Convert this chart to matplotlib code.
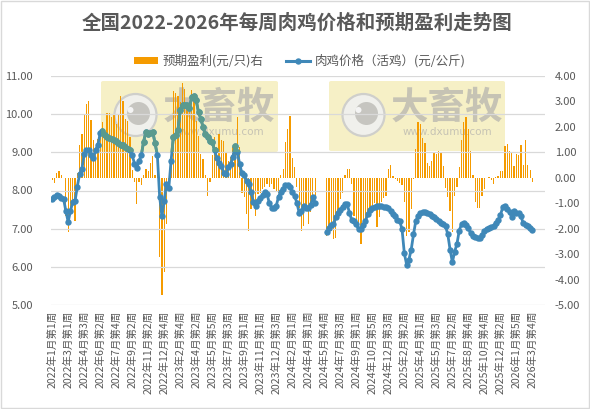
import numpy as np
import matplotlib
matplotlib.use('Agg')
import matplotlib.pyplot as plt
from matplotlib.patches import Rectangle, FancyBboxPatch, Ellipse, Patch
from matplotlib.lines import Line2D
from matplotlib.path import Path
from matplotlib.ticker import FormatStrFormatter

plt.rcParams['font.family'] = ['Noto Sans CJK SC', 'DejaVu Sans']

nan = np.nan

# weekly live-broiler price (yuan/kg), left axis
price = [
    7.79, 7.84, 7.88, 7.86, 7.81, 7.78, 7.46, 7.18, 7.46, 7.70,
    7.72, 8.10, 8.43, 8.56, 8.95, 9.06, 9.05, 8.93, 8.85, 9.06,
    9.19, 9.50, 9.55, 9.45, 9.40, 9.37, 9.36, 9.33, 9.30, 9.25,
    9.20, 9.19, 9.13, 9.10, 9.05, 8.93, 8.70, 8.58, 8.78, 8.93,
    9.28, 9.54, 9.49, 9.50, 9.54, 9.24, 8.93, 7.84, 7.32, 7.72,
    8.17, 8.06, 8.78, 9.40, 9.45, 9.58, 10.10, 10.25, 10.25, 10.25,
    10.16, 10.44, 10.48, 10.36, 10.05, 9.88, 9.66, 9.48, 9.40, 9.30,
    9.26, 9.05, 8.85, 8.72, 8.65, 8.47, 8.42, 8.62, 8.70, 8.87,
    9.17, 9.00, 8.69, 8.45, 8.40, 8.25, 8.17, 7.95, 7.70, 7.60,
    7.73, 7.80, 7.88, 7.96, 7.90, 7.66, 7.55, 7.53, 7.60, 7.84,
    7.97, 8.05, 8.14, 8.15, 8.08, 7.95, 7.86, 7.68, 7.42, 7.46,
    7.60, 7.53, 7.55, 7.62, 7.82, 7.68, nan, nan, nan, nan,
    6.91, 7.03, 7.09, 7.11, 7.30, 7.42, 7.49, 7.58, 7.64, 7.64,
    7.42, 7.22, 7.20, 7.11, 6.98, 7.00, 7.10, 7.20, 7.38, 7.50,
    7.53, 7.58, 7.60, 7.60, 7.60, 7.58, 7.56, 7.55, 7.46, 7.38,
    7.33, 7.22, 7.20, 6.98, 6.35, 6.06, 6.19, 6.45, 6.85, 7.20,
    7.33, 7.40, 7.44, 7.43, 7.42, 7.38, 7.34, 7.30, 7.25, 7.20,
    7.15, 7.11, 7.07, 6.85, 6.45, 6.12, 6.40, 6.60, 6.95, 7.12,
    7.16, 7.10, 7.01, 6.88, 6.81, 6.78, 6.75, 6.76, 6.84, 6.95,
    7.00, 7.03, 7.05, 7.07, 7.15, 7.23, 7.35, 7.56, 7.60, 7.52,
    7.43, 7.30, 7.47, 7.42, 7.40, 7.32, 7.14, 7.10, 7.07, 7.02,
    6.97,
]

# expected profit (yuan/bird), right axis
profit = [
    -0.10, -0.20, 0.20, 0.25, 0.12, 0.00, -1.50, -2.15, -1.20, -1.10,
    -1.70, 0.20, 1.28, 1.72, 2.50, 2.90, 3.00, 2.28, 1.48, 1.00,
    1.52, 1.80, 2.18, 1.80, 2.53, 2.53, 2.37, 2.50, 2.10, 2.50,
    3.22, 3.03, 2.30, 2.24, 1.59, 0.30, -0.18, -1.04, -0.18, -0.30,
    0.10, 0.34, 0.28, 0.60, 0.86, 0.10, 0.24, -3.13, -4.61, -3.70,
    -1.82, -0.10, 0.73, 3.42, 3.35, 3.20, 2.96, 3.72, 3.49, 2.73,
    2.96, 3.46, 3.29, 2.24, 1.65, 0.93, 0.73, 0.10, -0.70, -0.18,
    0.90, 1.59, 1.19, 1.72, 1.48, 1.45, 1.00, 0.67, 0.80, 1.19,
    1.32, 2.37, 1.19, -0.58, -0.77, -1.43, -2.08, -1.23, -1.10, -1.50,
    -0.64, -0.58, -0.45, -0.38, -0.25, -0.38, -0.25, -0.45, -0.51, -0.58,
    0.10, 0.34, 1.42, 1.91, 2.41, 0.76, 0.41, -0.38, -1.17, -2.08,
    -1.89, -1.23, -1.83, -1.36, -0.97, -0.70, nan, nan, nan, nan,
    -2.28, -2.21, -2.08, -2.41, -2.35, -1.50, -0.84, -0.58, 0.10, 0.34,
    0.34, -0.25, -1.50, -1.89, -2.15, -2.60, -2.08, -1.76, -1.50, -1.23,
    -1.10, -1.00, -1.95, -1.56, -0.97, -0.80, -0.70, 0.34, 0.50, 0.08,
    -0.05, -0.12, -0.20, -0.30, -0.97, -2.28, -2.15, -1.23, -0.05, 1.13,
    2.18, 2.10, 1.55, 1.36, 0.60, 0.47, 0.67, 1.00, 0.93, 1.06,
    1.00, 0.47, -0.42, -0.77, -1.30, -2.15, -0.70, -0.38, 0.41, 1.49,
    2.20, 2.37, 1.91, 1.06, 0.10, -0.94, -1.17, -1.17, -0.70, -0.45,
    0.00, 0.05, -0.08, -0.24, 0.03, 0.08, 0.25, 0.25, 1.23, 1.34,
    1.07, 0.97, 0.47, 0.94, 0.90, 1.30, 0.51, 1.49, 0.51, 0.31,
    -0.16,
]

tick_labels = [
    '2022年1月第1周', '2022年3月第1周', '2022年4月第3周', '2022年6月第2周',
    '2022年7月第4周', '2022年9月第2周', '2022年11月第2周', '2022年12月第4周',
    '2023年2月第4周', '2023年4月第2周', '2023年5月第5周', '2023年7月第3周',
    '2023年9月第1周', '2023年11月第1周', '2023年12月第3周', '2024年2月第1周',
    '2024年4月第1周', '2024年5月第4周', '2024年7月第3周', '2024年9月第1周',
    '2024年10月第5周', '2024年12月第3周', '2025年2月第2周', '2025年4月第1周',
    '2025年5月第3周', '2025年7月第2周', '2025年8月第4周', '2025年10月第4周',
    '2025年12月第2周', '2026年1月第5周', '2026年3月第4周',
]
label_step = 7
n_slots = 216

title = '全国2022-2026年每周肉鸡价格和预期盈利走势图'
bar_label = '预期盈利(元/只)右'
line_label = '肉鸡价格（活鸡）(元/公斤)'

price_ticks = [5, 6, 7, 8, 9, 10, 11]
profit_ticks = [-5, -4, -3, -2, -1, 0, 1, 2, 3, 4]

BLUE = '#3F88B8'
TEAL = '#5A9A8E'
ORANGE = '#F59B00'
GREY = '#595959'
WM_BG = '#F6F0C6'

W, H = 590, 409
fig = plt.figure(figsize=(W / 100, H / 100), dpi=100)
fig.patch.set_facecolor('white')


def fx(x):
    return x / W


def fy(y):
    return 1 - y / H


L, R, T, B = 51, 545, 76, 305
ax = fig.add_axes([fx(L), fy(B), (R - L) / W, (B - T) / H])
ax2 = ax.twinx()
ax.set_zorder(2)
ax2.set_zorder(1)
ax.patch.set_visible(False)
ax2.patch.set_visible(False)

x = np.arange(len(price))
xb = np.arange(len(profit))

# bars (right axis)
ax2.bar(xb, profit, width=0.55, color=ORANGE, linewidth=0)
ax2.set_ylim(profit_ticks[0], profit_ticks[-1])
ax2.set_yticks(profit_ticks)
ax2.yaxis.set_major_formatter(FormatStrFormatter('%.2f'))

# watermark boxes (figure level, behind axes)
wm_boxes = [(101, 81, 278, 152), (329, 81, 505, 151)]
clip_verts = []
clip_codes = []
for (x0, y0, x1, y1) in wm_boxes:
    fig.patches.append(FancyBboxPatch((fx(x0), fy(y1)), fx(x1) - fx(x0), fy(y0) - fy(y1),
                                      boxstyle='round,pad=0,rounding_size=0.004',
                                      transform=fig.transFigure, facecolor=WM_BG,
                                      edgecolor='none', zorder=0.2))
    cx, cy = x0 + 34.5, y0 + 34
    fig.patches.append(Ellipse((fx(cx), fy(cy)), 2 * 21 / W, 2 * 21 / H,
                               transform=fig.transFigure, facecolor='#F0F0EC',
                               edgecolor='#CFCFCB', lw=1.6, zorder=0.3))
    fig.patches.append(Ellipse((fx(cx + 3), fy(cy - 1.5)), 2 * 11.5 / W, 2 * 11.5 / H,
                               transform=fig.transFigure, facecolor='#C6C5C0',
                               edgecolor='none', zorder=0.35))
    fig.patches.append(Ellipse((fx(cx - 5), fy(cy - 5)), 2 * 3 / W, 2 * 3 / H,
                               transform=fig.transFigure, facecolor='#F4F4F4',
                               edgecolor='none', zorder=0.4))
    fig.text(fx(x0 + 118), fy(y0 + 26), '大畜牧', ha='center', va='center',
             fontsize=27, fontweight='bold', color='#C6C3B4', zorder=0.4)
    fig.text(fx(x0 + 118), fy(y0 + 51), 'www.dxumu.com', ha='center', va='center',
             fontsize=7.5, color='#C6C3B4', zorder=0.4, family=['DejaVu Sans'])
    clip_verts += [(fx(x0), fy(y0)), (fx(x1), fy(y0)), (fx(x1), fy(y1)),
                   (fx(x0), fy(y1)), (fx(x0), fy(y0))]
    clip_codes += [Path.MOVETO, Path.LINETO, Path.LINETO, Path.LINETO, Path.CLOSEPOLY]
clip_path = Path(clip_verts, clip_codes)

# price line (left axis)
ax.plot(x, price, color=BLUE, lw=2.0, marker='o', markersize=4.6,
        markeredgewidth=0, solid_joinstyle='round', zorder=3)
teal_line, = ax.plot(x, price, color=TEAL, lw=2.0, marker='o', markersize=4.6,
                     markeredgewidth=0, solid_joinstyle='round', zorder=4)
teal_line.set_clip_path(clip_path, fig.transFigure)

ax.set_ylim(price_ticks[0], price_ticks[-1])
ax.set_yticks(price_ticks)
ax.yaxis.set_major_formatter(FormatStrFormatter('%.2f'))
ax.set_xlim(-0.5, n_slots - 0.5)
tick_pos = np.arange(0, len(price), label_step)
ax.set_xticks(tick_pos)
ax.set_xticklabels(tick_labels, rotation=90, fontsize=7.6, color=GREY)
ax.yaxis.grid(True, color='#D9D9D9', lw=0.9)
ax.set_axisbelow(False)

for a in (ax, ax2):
    for s in a.spines.values():
        s.set_visible(False)
    a.tick_params(length=0, labelsize=8, labelcolor=GREY)
ax.tick_params(axis='y', pad=13)
ax.tick_params(axis='x', pad=4, labelsize=7.6)
ax2.tick_params(axis='y', pad=7)

# title and legend
fig.text(fx(297), fy(23), title, ha='center', va='center', fontsize=14,
         fontweight='bold', color=GREY)
handles = [Patch(facecolor=ORANGE, edgecolor='none'),
           Line2D([0], [0], color=BLUE, lw=2.2, marker='o', markersize=4.6,
                  markeredgewidth=0)]
leg = fig.legend(handles, [bar_label, line_label], loc='center',
                 bbox_to_anchor=(fx(300), fy(61)), ncol=2, frameon=False,
                 fontsize=9, handlelength=1.9, handleheight=0.45,
                 columnspacing=1.8, handletextpad=0.4)
for t in leg.get_texts():
    t.set_color(GREY)

fig.patches.append(Rectangle((0.001, 0.002), 0.997, 0.996, transform=fig.transFigure,
                             fill=False, edgecolor='#D9D9D9', lw=1, zorder=5))

fig.savefig('out.png', dpi=100)
